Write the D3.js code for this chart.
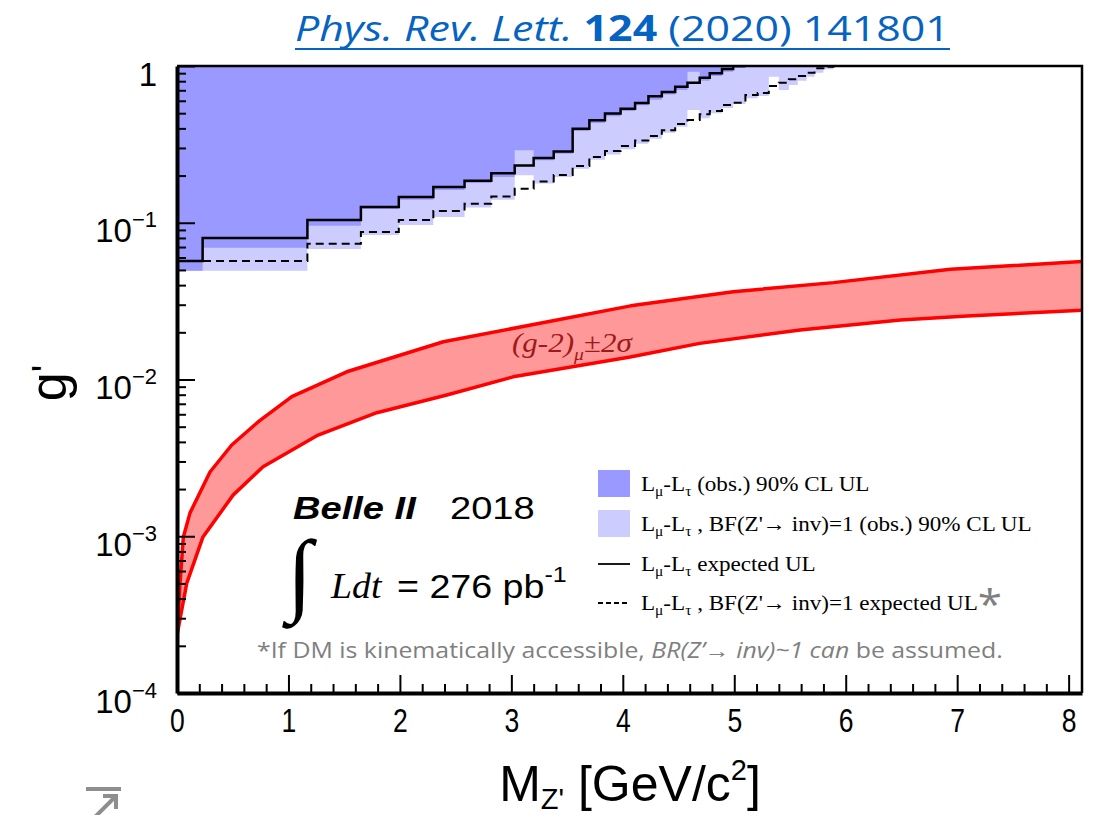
<!DOCTYPE html>
<html>
<head>
<meta charset="utf-8">
<script src="https://cdn.jsdelivr.net/npm/d3@7"></script>
<style>
  body { margin: 0; background: #fff; }
  svg { display: block; }
</style>
</head>
<body>
<div id="chart"></div>
<script>
// mass bin edges in GeV/c^2 (shared by all four limit curves)
const massEdges = [0.00, 0.23, 1.17, 1.65, 1.99, 2.30, 2.58, 2.82, 3.03, 3.20, 3.38, 3.55,
  3.70, 3.84, 3.98, 4.11, 4.23, 4.35, 4.47, 4.58, 4.69, 4.78, 4.89, 4.99, 5.10, 5.21,
  5.31, 5.40, 5.49, 5.57, 5.65, 5.72, 5.80, 5.89, 5.98]

// L_mu - L_tau observed 90% CL UL (dark)
const obsUL = [0.0494, 0.0693, 0.0958, 0.1225, 0.140, 0.162, 0.179, 0.196, 0.290, 0.250,
  0.276, 0.385, 0.433, 0.478, 0.516, 0.561, 0.609, 0.658, 0.703, 0.920, 0.806, 0.863,
  0.920, 0.971]

// BF(Z' -> inv) = 1 observed 90% CL UL (light)
const obsInvUL = [0.0494, 0.0494, 0.068, 0.0835, 0.0968, 0.109, 0.125, 0.140, 0.201, 0.178,
  0.196, 0.221, 0.252, 0.273, 0.294, 0.319, 0.343, 0.375, 0.410, 0.524, 0.464, 0.499,
  0.540, 0.572, 0.622, 0.644, 0.855, 0.703, 0.757, 0.806, 0.855, 0.906, 0.952, 0.99]

// expected UL (solid)
const expUL = [0.057, 0.080, 0.104, 0.126, 0.146, 0.169, 0.185, 0.207, 0.232, 0.259, 0.285,
  0.398, 0.451, 0.497, 0.534, 0.581, 0.641, 0.683, 0.738, 0.782, 0.842, 0.898, 0.957, 1]

// BF(Z' -> inv) = 1 expected UL (dashed)
const expInvUL = [0.057, 0.057, 0.0735, 0.0873, 0.104, 0.119, 0.132, 0.147, 0.165, 0.183,
  0.202, 0.230, 0.263, 0.287, 0.309, 0.335, 0.358, 0.389, 0.426, 0.452, 0.492, 0.516,
  0.564, 0.583, 0.653, 0.673, 0.745, 0.782, 0.823, 0.863, 0.906, 0.967, 0.99, 1]

// (g-2)_mu +-2 sigma band
const bandUpperMass = [0.003, 0.027, 0.057, 0.117, 0.296, 0.491, 0.730, 1.030, 1.523, 2.39,
  4.07, 4.99, 5.89, 6.94, 8.12]
const bandUpper = [2.4e-4, 5.0e-4, 9.9e-4, 1.41e-3, 2.57e-3, 3.82e-3, 5.38e-3, 7.77e-3,
  1.12e-2, 1.74e-2, 2.95e-2, 3.63e-2, 4.15e-2, 5.05e-2, 5.65e-2]
const bandLowerMass = [0.003, 0.087, 0.233, 0.503, 0.772, 1.266, 1.793, 2.421, 3.016, 4.066,
  4.69, 5.59, 6.49, 7.09, 8.12]
const bandLower = [2.4e-4, 5.0e-4, 9.9e-4, 1.83e-3, 2.78e-3, 4.42e-3, 6.14e-3, 7.96e-3,
  1.04e-2, 1.39e-2, 1.70e-2, 2.07e-2, 2.40e-2, 2.54e-2, 2.77e-2]

const xTicks = [0, 1, 2, 3, 4, 5, 6, 7, 8]
const yTicks = [1e-4, 1e-3, 1e-2, 1e-1, 1]
const yTickLabels = [['10', '−4'], ['10', '−3'], ['10', '−2'], ['10', '−1'], ['1', '']]

const darkBlue = '#9999ff'
const lightBlue = '#ccccff'
const bandFill = '#ff9999'
const bandLine = '#ff0000'
const noteGrey = '#7f7f7f'

const width = 1094
const height = 815
const plot = { left: 177, right: 1082, top: 66, bottom: 693 }
const serif = "'Liberation Serif', 'Times New Roman', serif"
const sans = "'Liberation Sans', Arial, sans-serif"

const x = d3.scaleLinear().domain([0, 8.12]).range([plot.left, plot.right])
const y = d3.scaleLog().domain([1e-4, 1]).range([plot.bottom, plot.top])

const svg = d3
  .select('#chart')
  .append('svg')
  .attr('width', width)
  .attr('height', height)
  .style('font-family', sans)

svg
  .append('defs')
  .append('clipPath')
  .attr('id', 'plot-clip')
  .append('rect')
  .attr('x', x.range()[0])
  .attr('y', y.range()[1])
  .attr('width', x.range()[1] - x.range()[0])
  .attr('height', y.range()[0] - y.range()[1])

// rich text: parts = [{ t, shift, size, italic, bold, fill, family }]
const rich = (text, parts) => {
  let offset = 0
  parts.forEach(p => {
    const shift = p.shift || 0
    const span = text.append('tspan').text(p.t)
    if (shift !== offset) span.attr('dy', shift - offset)
    offset = shift
    if (p.size) span.attr('font-size', p.size)
    if (p.italic) span.attr('font-style', 'italic')
    if (p.bold) span.attr('font-weight', 'bold')
    if (p.fill) span.attr('fill', p.fill)
    if (p.family) span.attr('font-family', p.family)
  })
  return text
}

// squeeze a text horizontally so it spans the wanted width from its anchor
const fitWidth = (text, x0, target) => {
  const w = text.node().getComputedTextLength()
  const s = target / w
  text.attr('transform', `translate(${x0},0) scale(${s},1) translate(${-x0},0)`)
}

// stretch a group horizontally around x0 (the slide image is widened)
const stretched = (x0, y0, s) => svg.append('g').attr('transform', `translate(${x0},${y0}) scale(${s},1)`)

const stepPoints = values =>
  values.map((v, i) => [massEdges[i], v]).concat([[massEdges[values.length], values[values.length - 1]]])

const clipG = v => Math.min(v, 1)

const stepArea = d3
  .area()
  .curve(d3.curveStepAfter)
  .x(d => x(d[0]))
  .y0(y(1))
  .y1(d => y(clipG(d[1])))

const stepLine = d3
  .line()
  .curve(d3.curveStepAfter)
  .x(d => x(d[0]))
  .y(d => y(clipG(d[1])))

const plotArea = svg.append('g').attr('clip-path', 'url(#plot-clip)')

plotArea.append('path').attr('d', stepArea(stepPoints(obsInvUL))).attr('fill', lightBlue)
plotArea.append('path').attr('d', stepArea(stepPoints(obsUL))).attr('fill', darkBlue)

// g-2 band
const upperPts = bandUpperMass.map((m, i) => [m, bandUpper[i]])
const lowerPts = bandLowerMass.map((m, i) => [m, bandLower[i]])
const bandPath = d3
  .line()
  .x(d => x(d[0]))
  .y(d => y(d[1]))

plotArea
  .append('path')
  .attr('d', bandPath(upperPts.concat(lowerPts.slice().reverse())) + 'Z')
  .attr('fill', bandFill)

;[upperPts, lowerPts].forEach(pts => {
  plotArea
    .append('path')
    .attr('d', bandPath(pts))
    .attr('fill', 'none')
    .attr('stroke', bandLine)
    .attr('stroke-width', 3.5)
    .attr('stroke-linejoin', 'round')
})

plotArea
  .append('path')
  .attr('d', stepLine(stepPoints(expUL)))
  .attr('fill', 'none')
  .attr('stroke', '#000')
  .attr('stroke-width', 2.5)

plotArea
  .append('path')
  .attr('d', stepLine(stepPoints(expInvUL)))
  .attr('fill', 'none')
  .attr('stroke', '#000')
  .attr('stroke-width', 2)
  .attr('stroke-dasharray', '8,5')

// frame: thin top/right, thick left/bottom from the axes
svg
  .append('path')
  .attr('d', `M${plot.left},${plot.top}H${plot.right}V${plot.bottom}`)
  .attr('fill', 'none')
  .attr('stroke', '#000')
  .attr('stroke-width', 2.5)

// x axis
const xMinor = d3.range(0, 41).filter(i => i % 5 !== 0).map(i => i / 5)

svg
  .append('g')
  .attr('transform', `translate(0,${plot.bottom})`)
  .call(d3.axisBottom(x).tickValues(xMinor).tickSize(-9).tickSizeOuter(0).tickFormat(''))
  .call(g => g.select('.domain').remove())
  .call(g => g.selectAll('line').attr('stroke-width', 2))

const xAxis = svg
  .append('g')
  .attr('transform', `translate(0,${plot.bottom})`)
  .call(d3.axisBottom(x).tickValues(xTicks).tickSize(-18).tickSizeOuter(0).tickFormat(d3.format('d')))

xAxis.select('.domain').attr('stroke-width', 4)
xAxis.selectAll('line').attr('stroke-width', 2)
xAxis
  .selectAll('text')
  .attr('y', 39)
  .attr('dy', null)
  .attr('font-size', 34)
  .attr('font-family', sans)
  .attr('fill', '#000')
  .attr('transform', 'scale(0.78,1)')

// y axis
const yMinor = []
yTicks.slice(0, -1).forEach(d => d3.range(2, 10).forEach(k => yMinor.push(k * d)))

svg
  .append('g')
  .attr('transform', `translate(${plot.left},0)`)
  .call(d3.axisLeft(y).tickValues(yMinor).tickSize(-9).tickSizeOuter(0).tickFormat(''))
  .call(g => g.select('.domain').remove())
  .call(g => g.selectAll('line').attr('stroke-width', 2))

const yAxis = svg
  .append('g')
  .attr('transform', `translate(${plot.left},0)`)
  .call(d3.axisLeft(y).tickValues(yTicks).tickSize(-18).tickSizeOuter(0).tickFormat(''))

yAxis.select('.domain').attr('stroke-width', 4)
yAxis.selectAll('line').attr('stroke-width', 2)
yAxis.selectAll('.tick text').remove()
yAxis.selectAll('.tick').each(function (d, i) {
  const [base, exp] = yTickLabels[i]
  const t = d3
    .select(this)
    .append('text')
    .attr('x', -20)
    .attr('y', 19)
    .attr('text-anchor', 'end')
    .attr('fill', '#000')
    .attr('font-size', 33)
    .attr('font-family', sans)
  rich(t, [{ t: base }, { t: exp, size: 22, shift: -15 }])
})

// axis titles
const yTitle = svg
  .append('text')
  .attr('transform', 'translate(66,383) rotate(-90)')
  .attr('text-anchor', 'middle')
  .attr('font-size', 52)
rich(yTitle, [{ t: 'g' }, { t: '\'', size: 40, shift: -6 }])

const xTitle = svg
  .append('text')
  .attr('x', 630)
  .attr('y', 801)
  .attr('text-anchor', 'middle')
  .attr('font-size', 50)
rich(xTitle, [
  { t: 'M' },
  { t: 'Z\'', size: 29, shift: 8 },
  { t: ' [GeV/c' },
  { t: '2', size: 29, shift: -21 },
  { t: ']' }
])

// reference title
const title = svg
  .append('text')
  .attr('x', 295)
  .attr('y', 41)
  .attr('font-size', 35)
  .attr('fill', '#0563c1')
  .attr('font-family', "'Open Sans', sans-serif")
rich(title, [
  { t: 'Phys. Rev. Lett. ', italic: true },
  { t: '124', bold: true },
  { t: ' (2020) 141801' }
])
fitWidth(title, 295, 655)
svg
  .append('line')
  .attr('x1', 295)
  .attr('x2', 950)
  .attr('y1', 49)
  .attr('y2', 49)
  .attr('stroke', '#0563c1')
  .attr('stroke-width', 2)

// band label
const bandLabel = stretched(512, 352, 1.15)
  .append('text')
  .attr('font-size', 27)
  .attr('fill', '#9e1a1a')
  .attr('font-family', serif)
  .attr('font-style', 'italic')
rich(bandLabel, [{ t: '(g-2)' }, { t: 'μ', size: 17, shift: 8 }, { t: '±2σ' }])

// Belle II block
const belle = stretched(293, 519, 1.19).attr('font-size', 32)
belle.append('text').attr('font-weight', 'bold').attr('font-style', 'italic').text('Belle II')
belle.append('text').attr('x', (450 - 293) / 1.19).text('2018')

svg
  .append('text')
  .attr('x', 287)
  .attr('y', 604)
  .attr('font-size', 92)
  .attr('font-family', serif)
  .text('∫')

stretched(331, 598, 1.08)
  .append('text')
  .attr('font-size', 35)
  .attr('font-style', 'italic')
  .attr('font-family', serif)
  .text('Ldt')

const lumi = stretched(397, 598, 1.14).append('text').attr('font-size', 33)
rich(lumi, [{ t: '= 276 pb' }, { t: '-1', size: 22, shift: -16 }])

// legend
const lmlt = [
  { t: 'L' },
  { t: 'μ', size: 14, shift: 5 },
  { t: '-L' },
  { t: 'τ', size: 14, shift: 5 }
]
const legendRows = [
  { kind: 'swatch', color: darkBlue, text: ' (obs.) 90% CL UL' },
  { kind: 'swatch', color: lightBlue, text: ' , BF(Z\'→ inv)=1 (obs.) 90% CL UL' },
  { kind: 'solid', text: ' expected UL' },
  { kind: 'dashed', text: ' , BF(Z\'→ inv)=1 expected UL', star: true }
]
const legendY = [484, 524, 564, 603]

const legend = svg.append('g').attr('font-family', serif).attr('font-size', 21)

legendRows.forEach((row, i) => {
  const cy = legendY[i]
  if (row.kind === 'swatch') {
    legend
      .append('rect')
      .attr('x', 598)
      .attr('y', cy - 14)
      .attr('width', 32)
      .attr('height', 27)
      .attr('fill', row.color)
  } else {
    legend
      .append('line')
      .attr('x1', 598)
      .attr('x2', 630)
      .attr('y1', cy)
      .attr('y2', cy)
      .attr('stroke', '#000')
      .attr('stroke-width', 1.8)
      .attr('stroke-dasharray', row.kind === 'dashed' ? '5,3' : null)
  }
  const t = legend
    .append('g')
    .attr('transform', `translate(641,${cy + 7}) scale(1.1,1)`)
    .append('text')
  const parts = lmlt.concat([{ t: row.text }])
  if (row.star) parts.push({ t: '*', size: 40, fill: noteGrey, shift: 9, family: "'Open Sans', sans-serif" })
  rich(t, parts)
})

// footnote
const note = svg
  .append('text')
  .attr('x', 257)
  .attr('y', 658)
  .attr('font-size', 21)
  .attr('fill', noteGrey)
  .attr('font-family', "'Open Sans', sans-serif")
rich(note, [
  { t: '*If DM is kinematically accessible, ' },
  { t: 'BR(Z’→ inv)~1 can', italic: true },
  { t: ' be assumed.' }
])
fitWidth(note, 257, 746)

// slide corner icon, cut by the page edge
svg
  .append('path')
  .attr('d', 'M86,789H121M94,818L116,796M103,796H116V809')
  .attr('fill', 'none')
  .attr('stroke', '#8e8e8e')
  .attr('stroke-width', 4)
</script>
</body>
</html>
